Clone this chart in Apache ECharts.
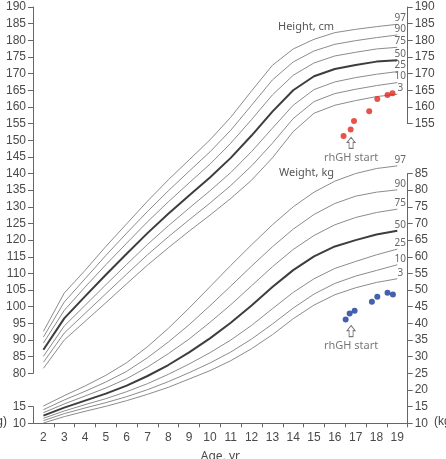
<!DOCTYPE html>
<html>
<head>
<meta charset="utf-8">
<script src="https://cdn.jsdelivr.net/npm/echarts@6/dist/echarts.min.js"></script>
<style>
  html, body { margin: 0; padding: 0; background: #fff; }
  #grafica { width: 446px; height: 459px; }
</style>
</head>
<body>
<div id="grafica"></div>
<script>
// edades (años)
const edades = [2, 3, 4, 5, 6, 7, 8, 9, 10, 11, 12, 13, 14, 15, 16, 17, 18, 19];
const percentiles = ['3', '10', '25', '50', '75', '90', '97'];

// talla, cm
const talla3  = [81.5, 90.0, 95.6, 101.2, 106.9, 112.5, 117.7, 122.7, 127.5, 132.5, 138.0, 144.7, 152.6, 158.1, 160.5, 161.9, 163.1, 163.8];
const talla10 = [83.3, 92.1, 98.0, 103.9, 109.8, 115.6, 121.0, 126.1, 131.1, 136.4, 142.3, 149.1, 156.5, 161.6, 164.0, 165.3, 166.4, 167.3];
const talla25 = [85.1, 94.2, 100.4, 106.6, 112.7, 118.7, 124.3, 129.6, 134.8, 140.3, 146.6, 153.6, 160.5, 165.2, 167.5, 168.8, 169.8, 170.6];
const talla50 = [87.1, 96.5, 103.1, 109.6, 115.9, 122.1, 127.9, 133.4, 138.8, 144.7, 151.4, 158.6, 165.0, 169.2, 171.4, 172.6, 173.6, 174.0];
const talla75 = [89.1, 98.9, 105.9, 112.6, 119.1, 125.5, 131.5, 137.2, 142.8, 149.1, 156.2, 163.6, 169.5, 173.2, 175.3, 176.4, 177.4, 177.9];
const talla90 = [90.9, 101.4, 108.4, 115.4, 122.1, 128.6, 134.8, 140.7, 146.5, 153.0, 160.5, 168.1, 173.5, 176.8, 178.8, 179.9, 180.8, 181.6];
const talla97 = [92.6, 104.1, 110.9, 118.1, 124.9, 131.7, 138.1, 144.1, 150.1, 156.9, 164.8, 172.5, 177.4, 180.3, 182.3, 183.3, 184.1, 184.8];

// peso, kg
const peso3  = [10.1, 12.0, 13.6, 15.1, 16.8, 18.7, 20.8, 23.3, 25.8, 28.8, 32.4, 36.6, 41.4, 45.5, 48.6, 50.7, 52.3, 53.4];
const peso10 = [10.8, 12.9, 14.6, 16.2, 18.0, 20.1, 22.5, 25.2, 28.1, 31.4, 35.3, 39.8, 44.6, 48.8, 52.0, 54.2, 55.9, 57.6];
const peso25 = [11.5, 13.7, 15.6, 17.4, 19.5, 21.9, 24.7, 27.8, 31.2, 35.0, 39.4, 44.4, 49.3, 53.4, 56.5, 58.6, 60.6, 62.3];
const peso50 = [12.3, 14.7, 16.8, 18.9, 21.3, 24.2, 27.5, 31.3, 35.5, 40.2, 45.4, 50.9, 56.0, 60.1, 63.1, 65.0, 66.7, 67.8];
const peso75 = [13.2, 15.8, 18.2, 20.6, 23.4, 26.9, 30.9, 35.3, 40.3, 45.6, 51.3, 57.0, 62.2, 66.4, 69.6, 71.8, 73.3, 74.3];
const peso90 = [14.1, 17.0, 19.6, 22.4, 25.6, 29.7, 34.4, 39.6, 45.3, 51.2, 57.2, 63.0, 68.3, 72.7, 76.0, 78.2, 79.4, 80.1];
const peso97 = [15.2, 18.3, 21.2, 24.4, 28.2, 33.0, 38.5, 44.6, 51.0, 57.4, 63.6, 69.6, 75.0, 79.4, 82.7, 85.0, 86.5, 87.3];

// paciente
const edadTalla = [16.42, 16.76, 16.92, 17.65, 18.04, 18.53, 18.77];
const tallaPaciente = [151.3, 153.2, 155.8, 158.7, 162.4, 163.6, 164.1];
const edadPeso = [16.52, 16.71, 16.95, 17.78, 18.04, 18.53, 18.79];
const pesoPaciente = [41.2, 43.0, 43.8, 46.5, 48.0, 49.2, 48.7];

// ejes
const etiquetasEdad = [2, 3, 4, 5, 6, 7, 8, 9, 10, 11, 12, 13, 14, 15, 16, 17, 18, 19];
const marcasEdad = [2.5, 3.5, 4.5, 5.5, 6.5, 7.5, 8.5, 9.5, 10.5, 11.5, 12.5, 13.5, 14.5, 15.5, 16.5, 17.5, 18.5, 19.5];

// flecha "rhGH start"
const inicioTalla = [16.78, 149.2];
const inicioPeso = [16.78, 37.7];

const tallas = [talla3, talla10, talla25, talla50, talla75, talla90, talla97];
const pesos = [peso3, peso10, peso25, peso50, peso75, peso90, peso97];

var dom = document.getElementById('grafica');
var myChart = echarts.init(dom, null, { renderer: 'canvas' });

// un mismo cm/kg por pixel en todo el alto
const arriba = 7, abajo = 423.3;
const u = (abajo - arriba) / 125;
const izq = 33, der = 38.3;
const fuente = 'Liberation Sans';
const gris = '#4a4a4a';

function rejilla(top, alto) {
  return { left: izq, right: der, top: top, height: alto, outerBoundsMode: 'none', containLabel: false };
}
function ejeX(idx, visible) {
  return {
    type: 'value', gridIndex: idx, min: 1.5, max: 19.5, show: visible,
    axisLine: { show: true, lineStyle: { color: '#666', width: 1 } },
    axisTick: { show: true, length: 4, customValues: marcasEdad, lineStyle: { color: '#666' } },
    axisLabel: { customValues: etiquetasEdad, color: gris, fontSize: 12, fontFamily: fuente, margin: 8 },
    splitLine: { show: false },
    name: visible ? 'Age, yr' : '', nameLocation: 'middle', nameGap: 27,
    nameTextStyle: { color: gris, fontSize: 12, fontFamily: 'Noto Sans' }
  };
}
function ejeY(idx, min, max, pos) {
  return {
    type: 'value', gridIndex: idx, min: min, max: max, interval: 5, position: pos,
    axisLine: { show: true, lineStyle: { color: '#666', width: 1 } },
    axisTick: { show: true, length: 5, lineStyle: { color: '#666' } },
    axisLabel: { color: gris, fontSize: 12, fontFamily: fuente, margin: 7 },
    splitLine: { show: false }
  };
}

function curva(nombre, valores, grid, gruesa) {
  const ultimo = valores.length - 1;
  return {
    type: 'line', name: nombre, xAxisIndex: grid, yAxisIndex: grid,
    data: valores.map((v, i) => i === ultimo
      ? { value: [edades[i], v], label: { show: true } }
      : [edades[i], v]),
    symbol: 'circle', symbolSize: 0, showSymbol: true, clip: false, silent: true,
    lineStyle: { color: gruesa ? '#3d3d3d' : '#8c8c8c', width: gruesa ? 2 : 1 },
    itemStyle: { color: 'transparent' },
    label: {
      show: false, position: 'top', distance: 1, offset: [3, 0],
      formatter: nombre, color: '#666', fontSize: 10, fontFamily: 'Noto Sans'
    },
    z: gruesa ? 3 : 2
  };
}

const series = [];
tallas.forEach((t, k) => series.push(curva(percentiles[k], t, 0, k === 3)));
pesos.forEach((p, k) => series.push(curva(percentiles[k], p, 3, k === 3)));

series.push({
  type: 'scatter', xAxisIndex: 0, yAxisIndex: 0, symbolSize: 6, clip: false,
  itemStyle: { color: '#e2281c' },
  data: edadTalla.map((e, i) => [e, tallaPaciente[i]]), z: 5
});
series.push({
  type: 'scatter', xAxisIndex: 3, yAxisIndex: 3, symbolSize: 6, clip: false,
  itemStyle: { color: '#143a9a' },
  data: edadPeso.map((e, i) => [e, pesoPaciente[i]]), z: 5
});

const flecha = 'path://M4,0 L8,5 L6,5 L6,11 L2,11 L2,5 L0,5 Z';
[[inicioTalla, 0], [inicioPeso, 3]].forEach(([punto, g]) => {
  series.push({
    type: 'scatter', xAxisIndex: g, yAxisIndex: g, clip: false, silent: true,
    symbol: flecha, symbolSize: [8, 11],
    itemStyle: { color: '#fff', borderColor: '#555', borderWidth: 1 },
    label: { show: true, position: 'bottom', distance: 3, formatter: 'rhGH start',
             color: '#555', fontSize: 11, fontFamily: 'Noto Sans' },
    data: [punto], z: 6
  });
});

var option = {
  animation: false,
  backgroundColor: '#fff',
  grid: [
    rejilla(arriba, 110 * u),            // talla 80-190
    rejilla(arriba + 120 * u, 5 * u),    // kg 10-15 izquierda
    rejilla(arriba, 35 * u),             // talla 155-190 derecha
    rejilla(arriba + 50 * u, 75 * u)     // kg 10-85 derecha
  ],
  xAxis: [ejeX(0, false), ejeX(1, true), ejeX(2, false), ejeX(3, false)],
  yAxis: [
    ejeY(0, 80, 190, 'left'),
    ejeY(1, 10, 15, 'left'),
    ejeY(2, 155, 190, 'right'),
    ejeY(3, 10, 85, 'right')
  ],
  graphic: [
    { type: 'text', left: 278, top: 21, style: { text: 'Height, cm', fill: '#555', font: '11px "Noto Sans"' } },
    { type: 'text', left: 279, top: 167, style: { text: 'Weight, kg', fill: '#555', font: '11px "Noto Sans"' } },
    { type: 'text', right: 439, top: 416, style: { text: '(kg)', fill: '#444', font: '12px "Liberation Sans"' } },
    { type: 'text', left: 434, top: 416, style: { text: '(kg)', fill: '#444', font: '12px "Liberation Sans"' } }
  ],
  series: series
};

if (option && typeof option === 'object') {
  myChart.setOption(option);
}

window.addEventListener('resize', myChart.resize);
</script>
</body>
</html>
